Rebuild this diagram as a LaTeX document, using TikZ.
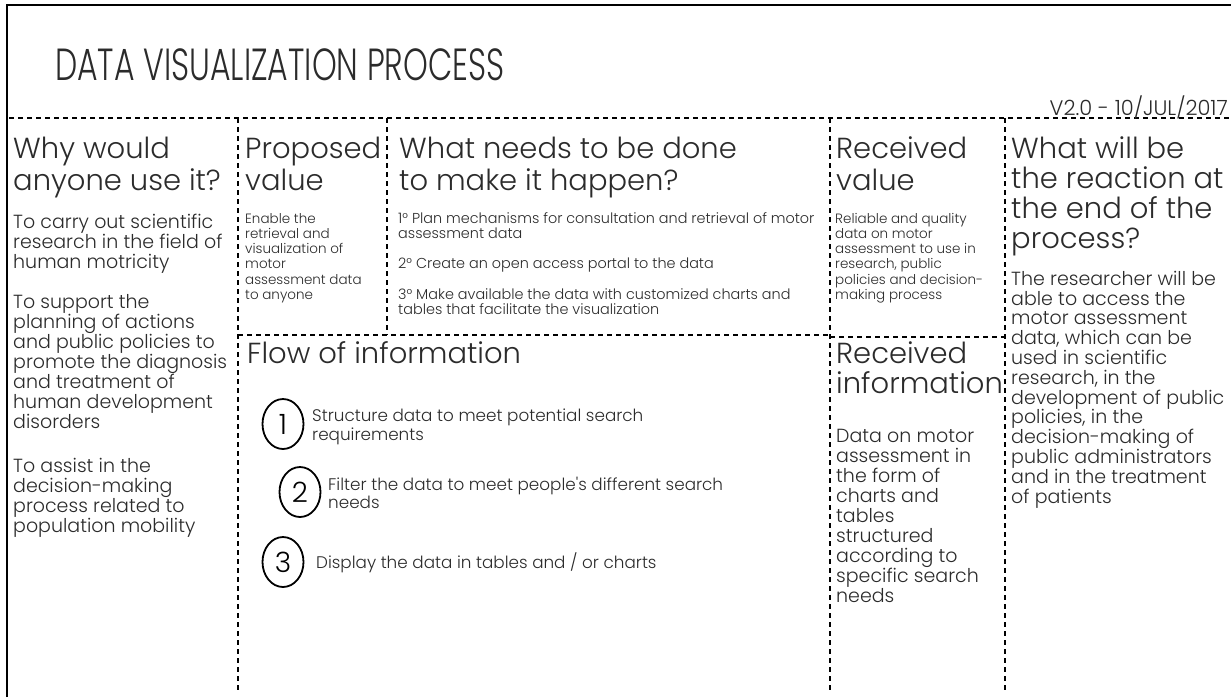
\documentclass[tikz,border=0pt]{standalone}
\usepackage{graphicx}
\usepackage{fontspec}
\setmainfont{Poppins}[UprightFont=* Light]
\usetikzlibrary{positioning,shapes.geometric}
\definecolor{ink}{HTML}{2B2B2B}

\begin{document}
\begin{tikzpicture}
[x=1pt,y=-1pt,
 divider/.style={draw=black,line width=1.6pt,dash pattern=on 5pt off 4pt},
 head/.style={anchor=base west,inner sep=0,align=left,text=ink,font=\fontsize{29}{32}\selectfont},
 body/.style={anchor=base west,inner sep=0,align=left,text=ink,font=\fontsize{19}{20}\selectfont},
 small/.style={anchor=base west,inner sep=0,align=left,text=ink,font=\fontsize{13.5}{15.3}\selectfont},
 steptext/.style={anchor=base west,inner sep=0,align=left,text=ink,font=\fontsize{16.8}{19}\selectfont},
 stepnum/.style={ellipse,draw=black,line width=1.8pt,minimum width=41pt,minimum height=50pt,inner sep=0,text=black,font=\fontsize{28}{28}\selectfont}]
\useasboundingbox (0,0) rectangle (1231,697);

% frame and dividers
\draw[line width=2.5pt] (7,697) -- (7,5) -- (1231,5);
\draw[divider] (9,118) -- (1231,118);
\draw[divider] (238,118) -- (238,692);
\draw[divider] (387,118) -- (387,335);
\draw[divider] (238,335) -- (830,335);
\draw[divider] (830,118) -- (830,692);
\draw[divider] (830,337) -- (1005,337);
\draw[divider] (1005,118) -- (1005,692);

% (anchor base = baseline of the last line)
\node[anchor=base west,inner sep=0,text=ink,font=\fontsize{45}{45}\selectfont] (title) at (55,80) {\scalebox{0.7}[1]{DATA VISUALIZATION PROCESS}};
\node[anchor=base east,inner sep=0,text=ink,font=\fontsize{21}{21}\selectfont] (version) at (1228,115) {V2.0 - 10/JUL/2017};

% first column
\node[head] (why) at (13,190) {Why would\\anyone use it?};
\node[body] (why1) at (13,268) {To carry out scientific\\research in the field of\\human motricity};
\node[body] (why2) at (13,428) {To support the\\planning of actions\\and public policies to\\promote the diagnosis\\and treatment of\\human development\\disorders};
\node[body] (why3) at (13,532) {To assist in the\\decision-making\\process related to\\population mobility};

% proposed value
\node[head] (proposed) at (245,190) {Proposed\\value};
\node[small] (proposedtxt) at (245,299.5) {Enable the\\retrieval and\\visualization of\\motor\\assessment data\\to anyone};

% what needs to be done
\node[head] (needs) at (399,190) {What needs to be done\\to make it happen?};
\node[small,font=\fontsize{14.4}{15.3}\selectfont] (needs1) at (398,238.3) {1° Plan mechanisms for consultation and retrieval of motor\\assessment data};
\node[small,font=\fontsize{14.4}{15.3}\selectfont] (needs2) at (398,268) {2° Create an open access portal to the data};
\node[small,font=\fontsize{14.4}{15.3}\selectfont] (needs3) at (398,314.3) {3° Make available the data with customized charts and\\tables that facilitate the visualization};

% flow of information
\node[head] (flow) at (247,363) {Flow of information};
\node[stepnum] (1) at (283,424) {1};
\node[stepnum] (2) at (300,492) {2};
\node[stepnum] (3) at (283,562) {3};
\node[steptext] (step1) at (312,440) {Structure data to meet potential search\\requirements};
\node[steptext,font=\fontsize{16.8}{18}\selectfont] (step2) at (328,508) {Filter the data to meet people\textquotesingle s different search\\needs};
\node[steptext] (step3) at (316,568) {Display the data in tables and / or charts};

% received value and information
\node[head] (recvalue) at (836,190) {Received\\value};
\node[small] (recvaluetxt) at (835,299.5) {Reliable and quality\\data on motor\\assessment to use in\\research, public\\policies and decision-\\making process};
\node[head,font=\fontsize{29}{30}\selectfont] (recinfo) at (836,393) {Received\\information};
\node[body] (recinfotxt) at (836,602) {Data on motor\\assessment in\\the form of\\charts and\\tables\\structured\\according to\\specific search\\needs};

% reaction
\node[head,font=\fontsize{29}{30}\selectfont] (reaction) at (1011,248) {What will be\\the reaction at\\the end of the\\process?};
\node[body,font=\fontsize{19}{19.8}\selectfont] (reactiontxt) at (1011,503) {The researcher will be\\able to access the\\motor assessment\\data, which can be\\used in scientific\\research, in the\\development of public\\policies, in the\\decision-making of\\public administrators\\and in the treatment\\of patients};
\end{tikzpicture}
\end{document}
